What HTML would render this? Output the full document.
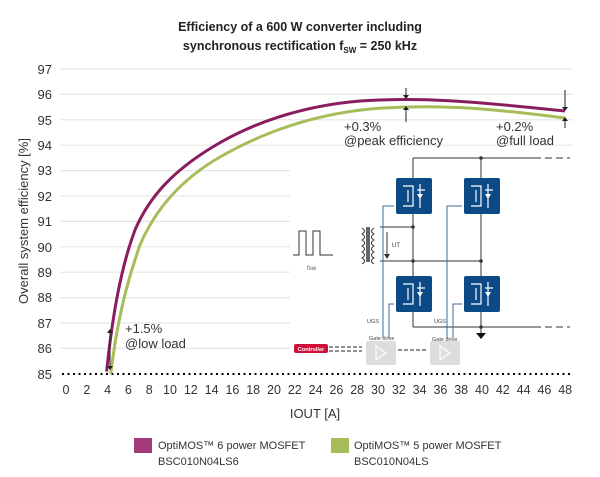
<!DOCTYPE html>
<html><head><meta charset="utf-8"><style>
body{margin:0;background:#fff;}
svg{display:block;font-family:"Liberation Sans",sans-serif;}
</style></head><body>
<svg width="600" height="477" viewBox="0 0 600 477" xmlns="http://www.w3.org/2000/svg">
<text x="300" y="31" text-anchor="middle" font-size="12.5" font-weight="bold" fill="#222">Efficiency of a 600 W converter including</text>
<text x="300" y="50" text-anchor="middle" font-size="12.5" font-weight="bold" fill="#222">synchronous rectification f<tspan font-size="8" dy="3">SW</tspan><tspan dy="-3"> = 250 kHz</tspan></text>
<g stroke="#e6e6e6" stroke-width="1.2">
<line x1="60" x2="573" y1="69" y2="69"/><line x1="60" x2="573" y1="94.4" y2="94.4"/><line x1="60" x2="573" y1="119.8" y2="119.8"/><line x1="60" x2="573" y1="145.2" y2="145.2"/><line x1="60" x2="573" y1="170.6" y2="170.6"/><line x1="60" x2="573" y1="196" y2="196"/><line x1="60" x2="573" y1="221.4" y2="221.4"/><line x1="60" x2="573" y1="246.8" y2="246.8"/><line x1="60" x2="573" y1="272.2" y2="272.2"/><line x1="60" x2="573" y1="297.6" y2="297.6"/><line x1="60" x2="573" y1="323" y2="323"/><line x1="60" x2="573" y1="348.4" y2="348.4"/>
</g>
<line x1="62" x2="573" y1="374" y2="374" stroke="#000" stroke-width="2" stroke-dasharray="2,3.5"/>
<g font-size="13" fill="#333" text-anchor="end">
<text x="52" y="74">97</text><text x="52" y="99">96</text><text x="52" y="125">95</text><text x="52" y="150">94</text><text x="52" y="175">93</text><text x="52" y="201">92</text><text x="52" y="226">91</text><text x="52" y="252">90</text><text x="52" y="277">89</text><text x="52" y="302">88</text><text x="52" y="328">87</text><text x="52" y="353">86</text><text x="52" y="379">85</text>
</g>
<g font-size="12.5" fill="#333" text-anchor="middle">
<text x="66" y="394">0</text><text x="86.8" y="394">2</text><text x="107.6" y="394">4</text><text x="128.4" y="394">6</text><text x="149.2" y="394">8</text><text x="170" y="394">10</text><text x="190.8" y="394">12</text><text x="211.6" y="394">14</text><text x="232.4" y="394">16</text><text x="253.2" y="394">18</text><text x="274" y="394">20</text><text x="294.8" y="394">22</text><text x="315.6" y="394">24</text><text x="336.4" y="394">26</text><text x="357.2" y="394">28</text><text x="378" y="394">30</text><text x="398.8" y="394">32</text><text x="419.6" y="394">34</text><text x="440.4" y="394">36</text><text x="461.2" y="394">38</text><text x="482" y="394">40</text><text x="502.8" y="394">42</text><text x="523.6" y="394">44</text><text x="544.4" y="394">46</text><text x="565.2" y="394">48</text>
</g>
<text x="315" y="418" text-anchor="middle" font-size="13" fill="#333">IOUT [A]</text>
<text transform="translate(28,221) rotate(-90)" text-anchor="middle" font-size="13" fill="#333">Overall system efficiency [%]</text>

<rect x="290" y="150" width="285" height="218" fill="#fff"/>
<g stroke="#333" stroke-width="1" fill="none">
<line x1="413" y1="158" x2="541" y2="158"/><line x1="545" y1="158" x2="570" y2="158" stroke-dasharray="7,4"/>
<line x1="413" y1="327" x2="541" y2="327"/><line x1="545" y1="327" x2="570" y2="327" stroke-dasharray="7,4"/>
<line x1="413" y1="158" x2="413" y2="327"/><line x1="481" y1="158" x2="481" y2="333"/>
<line x1="380" y1="227" x2="413" y2="227"/><line x1="380" y1="261" x2="481" y2="261"/>
<polyline points="293,255 299,255 299,231 306,231 306,255 313,255 313,231 320,231 320,255 333,255"/>
<path d="M362 228 q5 3 0 6 q5 3 0 6 q5 3 0 6 q5 3 0 6 q5 3 0 6 q5 3 0 6"/>
<path d="M374 228 q-5 3 0 6 q-5 3 0 6 q-5 3 0 6 q-5 3 0 6 q-5 3 0 6 q-5 3 0 6"/>
<line x1="367" y1="227" x2="367" y2="262" stroke-width="1.5"/><line x1="369" y1="227" x2="369" y2="262" stroke-width="1.5"/>
<line x1="387" y1="232" x2="387" y2="256"/>
</g>
<path d="M384 254 l3 5 l3 -5z" fill="#333"/>
<path d="M476 333 l5 6 l5 -6z" fill="#111"/>
<circle cx="413" cy="227" r="1.8" fill="#333"/><circle cx="413" cy="261" r="1.8" fill="#333"/><circle cx="481" cy="158" r="1.8" fill="#333"/><circle cx="481" cy="261" r="1.8" fill="#333"/><circle cx="481" cy="327" r="1.8" fill="#333"/>
<text x="392" y="247" font-size="6" fill="#333">UT</text>
<text x="307" y="270" font-size="6" fill="#555">fsw</text>
<g fill="#0b4a85">
<rect x="396" y="178" width="36" height="36" rx="2"/><rect x="464" y="178" width="36" height="36" rx="2"/>
<rect x="396" y="276" width="36" height="36" rx="2"/><rect x="464" y="276" width="36" height="36" rx="2"/>
</g>
<g stroke="#fff" stroke-width="1.2" fill="none">
<path d="M403 186 h10 v20 h-10 M408 190 v12 M420 184 v24 M417 190 h8"/>
<path d="M471 186 h10 v20 h-10 M476 190 v12 M488 184 v24 M485 190 h8"/>
<path d="M403 284 h10 v20 h-10 M408 288 v12 M420 282 v24 M417 288 h8"/>
<path d="M471 284 h10 v20 h-10 M476 288 v12 M488 282 v24 M485 288 h8"/>
</g>
<g fill="#fff"><path d="M417 194 l6 0 l-3 5z"/><path d="M485 194 l6 0 l-3 5z"/><path d="M417 292 l6 0 l-3 5z"/><path d="M485 292 l6 0 l-3 5z"/></g>
<g stroke="#3a6ea5" stroke-width="1" fill="none">
<polyline points="383,338 383,206 394,206"/><polyline points="389,338 389,304 394,304"/>
<polyline points="447,338 447,206 462,206"/><polyline points="453,338 453,304 462,304"/>
</g>
<text x="367" y="323" font-size="5.5" fill="#444">UGS</text><text x="434" y="323" font-size="5.5" fill="#444">UGS</text>
<rect x="366" y="341" width="30" height="24" rx="2" fill="#ddd"/><rect x="430" y="341" width="30" height="24" rx="2" fill="#ddd"/>
<path d="M376 346 l10 7 l-10 7z" fill="none" stroke="#fff" stroke-width="1.2"/><path d="M440 346 l10 7 l-10 7z" fill="none" stroke="#fff" stroke-width="1.2"/>
<text x="369" y="340" font-size="5.5" fill="#444">Gate drive</text><text x="432" y="341" font-size="5.5" fill="#444">Gate drive</text>
<rect x="294" y="344" width="34" height="9" rx="2" fill="#d0103a"/>
<text x="311" y="351" font-size="5.5" fill="#fff" text-anchor="middle" font-weight="bold">Controller</text>
<g stroke="#222" stroke-width="1" stroke-dasharray="4,2"><line x1="329" y1="347" x2="362" y2="347"/><line x1="329" y1="351" x2="362" y2="351"/><line x1="398" y1="350" x2="426" y2="350"/></g>

<path d="M110.7,374 C116,330 124,290 140,245 C155,210 180,180 220,157 C260,134 310,115 370,109 C430,104 480,107 565,118" fill="none" stroke="#a5be5a" stroke-width="3"/>
<path d="M106.6,371.5 C112,320 120,270 135,230 C150,195 175,170 211.6,147.6 C250,124 300,106 360,101 C420,97 470,101 565,111" fill="none" stroke="#8a1d5f" stroke-width="3"/>

<g stroke="#222" stroke-width="1">
<line x1="406" y1="88" x2="406" y2="97"/><line x1="406" y1="108" x2="406" y2="122"/>
<line x1="565" y1="90" x2="565" y2="109"/><line x1="565" y1="118" x2="565" y2="128"/>
<line x1="110" y1="330" x2="110" y2="368"/>
</g>
<g fill="#222"><path d="M403 95 l3 4 l3 -4z"/><path d="M403 110 l3 -4 l3 4z"/><path d="M562 107 l3 4 l3 -4z"/><path d="M562 121 l3 -4 l3 4z"/><path d="M107 333 l3 -4 l3 4z"/><path d="M107 366 l3 4 l3 -4z"/></g>
<g font-size="13" fill="#333">
<text x="344" y="131">+0.3%</text><text x="344" y="145">@peak efficiency</text>
<text x="496" y="131">+0.2%</text><text x="496" y="145">@full load</text>
<text x="125" y="333">+1.5%</text><text x="125" y="348">@low load</text>
</g>

<rect x="134" y="438" width="18" height="15" fill="#a33a7a"/>
<rect x="331" y="438" width="18" height="15" fill="#a5be5a"/>
<g font-size="11" fill="#333">
<text x="158" y="449">OptiMOS™ 6 power MOSFET</text><text x="158" y="465">BSC010N04LS6</text>
<text x="354" y="449">OptiMOS™ 5 power MOSFET</text><text x="354" y="465">BSC010N04LS</text>
</g>
</svg>
</body></html>
